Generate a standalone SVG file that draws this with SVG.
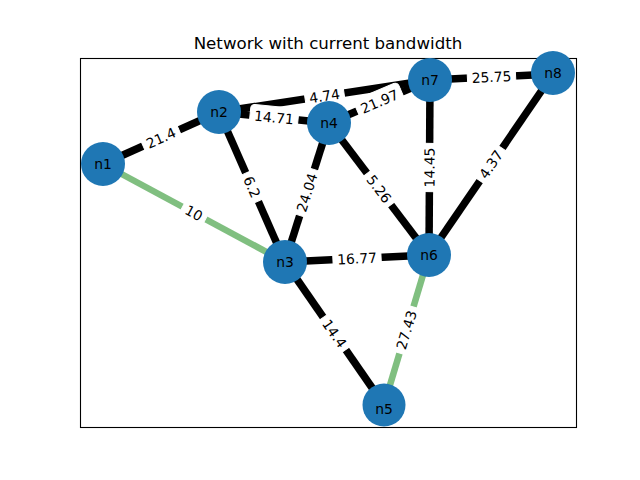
<svg xmlns="http://www.w3.org/2000/svg" width="640" height="480" viewBox="0 0 640 480">
<style>
text{font-family:"DejaVu Sans","Liberation Sans",sans-serif;fill:#000}
.title{font-size:16.67px;text-anchor:middle}
.e{stroke:#000;stroke-width:7.5;fill:none}
.g{stroke:#80bf80;stroke-width:6.5;fill:none}
.lb rect{fill:#fff;stroke:#fff}
.lb text{font-size:13.9px;text-anchor:middle}
.node circle{fill:#1f77b4}
.node text{font-size:13.9px;text-anchor:middle}
</style>
<rect width="640" height="480" fill="#fff"/>
<text class="title" x="328" y="49">Network with current bandwidth</text>
<rect x="80.5" y="58.5" width="496" height="369" fill="none" stroke="#000" stroke-width="1.1"/>
<g id="edges">
<line class="e" x1="103" y1="164" x2="219" y2="112"/>
<line class="g" x1="103" y1="164" x2="285" y2="262"/>
<line class="e" x1="219" y1="112" x2="329" y2="123"/>
<line class="e" x1="219" y1="112" x2="430" y2="80"/>
<line class="e" x1="219" y1="112" x2="285" y2="262"/>
<line class="e" x1="329" y1="123" x2="430" y2="80"/>
<line class="e" x1="329" y1="123" x2="285" y2="262"/>
<line class="e" x1="329" y1="123" x2="429" y2="255"/>
<line class="e" x1="430" y1="80" x2="553" y2="74"/>
<line class="e" x1="430" y1="80" x2="429" y2="255"/>
<line class="e" x1="553" y1="74" x2="429" y2="255"/>
<line class="e" x1="285" y1="262" x2="429" y2="255"/>
<line class="e" x1="285" y1="262" x2="384" y2="405"/>
<line class="g" x1="429" y1="255" x2="384" y2="405"/>
</g>
<g id="edge-labels">
<g class="lb" transform="translate(161,138) rotate(-24.1)"><rect x="-19.6" y="-11" width="39.3" height="22" rx="4"/><text y="5">21.4</text></g>
<g class="lb" transform="translate(194,213) rotate(28.3)"><rect x="-13" y="-11" width="26.1" height="22" rx="4"/><text y="5">10</text></g>
<g class="lb" transform="translate(274,117.5) rotate(5.7)"><rect x="-24.1" y="-11" width="48.2" height="22" rx="4"/><text y="5">14.71</text></g>
<g class="lb" transform="translate(324.5,96) rotate(-8.6)"><rect x="-19.6" y="-11" width="39.3" height="22" rx="4"/><text y="5">4.74</text></g>
<g class="lb" transform="translate(252,187) rotate(66.3)"><rect x="-15.2" y="-11" width="30.5" height="22" rx="4"/><text y="5">6.2</text></g>
<g class="lb" transform="translate(379.5,101.5) rotate(-23.1)"><rect x="-24.1" y="-11" width="48.2" height="22" rx="4"/><text y="5">21.97</text></g>
<g class="lb" transform="translate(307,192.5) rotate(-72.4)"><rect x="-24.1" y="-11" width="48.2" height="22" rx="4"/><text y="5">24.04</text></g>
<g class="lb" transform="translate(379,189) rotate(52.9)"><rect x="-19.6" y="-11" width="39.3" height="22" rx="4"/><text y="5">5.26</text></g>
<g class="lb" transform="translate(491.5,77) rotate(-2.8)"><rect x="-24.1" y="-11" width="48.2" height="22" rx="4"/><text y="5">25.75</text></g>
<g class="lb" transform="translate(429.5,167.5) rotate(-89.7)"><rect x="-24.1" y="-11" width="48.2" height="22" rx="4"/><text y="5">14.45</text></g>
<g class="lb" transform="translate(491,164.5) rotate(-55.6)"><rect x="-19.6" y="-11" width="39.3" height="22" rx="4"/><text y="5">4.37</text></g>
<g class="lb" transform="translate(357,258.5) rotate(-2.8)"><rect x="-24.1" y="-11" width="48.2" height="22" rx="4"/><text y="5">16.77</text></g>
<g class="lb" transform="translate(334.5,333.5) rotate(55.3)"><rect x="-19.6" y="-11" width="39.3" height="22" rx="4"/><text y="5">14.4</text></g>
<g class="lb" transform="translate(406.5,330) rotate(-73.3)"><rect x="-24.1" y="-11" width="48.2" height="22" rx="4"/><text y="5">27.43</text></g>
</g>
<g id="n1" class="node"><circle cx="103" cy="164" r="22"/><text x="103" y="169">n1</text></g>
<g id="n2" class="node"><circle cx="219" cy="112" r="22"/><text x="219" y="117">n2</text></g>
<g id="n3" class="node"><circle cx="285" cy="262" r="22"/><text x="285" y="267">n3</text></g>
<g id="n4" class="node"><circle cx="329" cy="123" r="22"/><text x="329" y="128">n4</text></g>
<g id="n5" class="node"><circle cx="384" cy="405" r="21.5"/><text x="384" y="414">n5</text></g>
<g id="n6" class="node"><circle cx="429" cy="255" r="22"/><text x="429" y="260">n6</text></g>
<g id="n7" class="node"><circle cx="430" cy="80" r="22"/><text x="430" y="85">n7</text></g>
<g id="n8" class="node"><circle cx="553" cy="73" r="22"/><text x="553" y="78">n8</text></g>
</svg>
